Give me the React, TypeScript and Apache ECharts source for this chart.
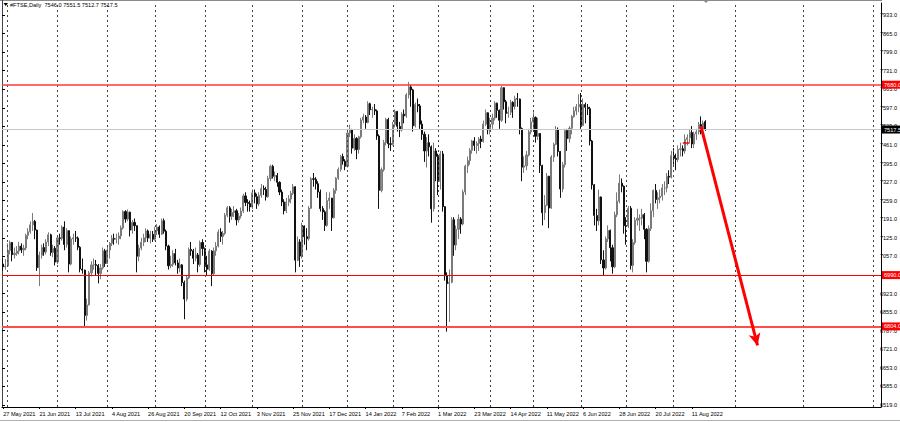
import React, { useEffect, useRef } from "react";
import * as echarts from "echarts";

// Daily candles, each entry: [open, high, low, close]
const may21 = [[7030, 7052, 7005, 7020], [7020, 7048, 7010, 7023]];
const jun21 = [
  [7023, 7105, 7020, 7080], [7080, 7115, 7065, 7108], [7108, 7110, 7040, 7064], [7064, 7090, 7050, 7069],
  [7069, 7095, 7060, 7077], [7077, 7110, 7065, 7095], [7095, 7105, 7070, 7081], [7081, 7100, 7060, 7088],
  [7088, 7140, 7080, 7134], [7134, 7160, 7120, 7147], [7147, 7185, 7140, 7172], [7172, 7215, 7150, 7185],
  [7185, 7190, 7120, 7153], [7153, 7155, 7005, 7017], [7017, 7075, 6950, 7062], [7062, 7100, 7050, 7090],
  [7090, 7105, 7060, 7074], [7074, 7120, 7065, 7110], [7110, 7145, 7095, 7136], [7136, 7140, 7060, 7072],
  [7072, 7100, 7055, 7087], [7087, 7095, 7025, 7037],
];
const jul21 = [
  [7037, 7130, 7030, 7125], [7125, 7140, 7100, 7123], [7123, 7170, 7115, 7164], [7164, 7185, 7080, 7101],
  [7101, 7160, 7090, 7151], [7151, 7152, 7000, 7030], [7030, 7130, 7025, 7121], [7121, 7140, 7100, 7125],
  [7125, 7150, 7110, 7124], [7124, 7130, 7080, 7091], [7091, 7095, 7000, 7012], [7012, 7050, 6995, 7008],
  [7008, 7010, 6805, 6844], [6844, 6905, 6825, 6882], [6882, 7005, 6880, 6998], [6998, 7040, 6985, 7027],
  [7027, 7050, 7010, 7028], [7028, 7045, 6990, 7025], [7025, 7030, 6960, 6996], [6996, 7030, 6975, 7016],
  [7016, 7090, 7010, 7078], [7078, 7085, 7020, 7032],
];
const aug21 = [
  [7032, 7095, 7030, 7081], [7081, 7110, 7050, 7105], [7105, 7135, 7095, 7123], [7123, 7140, 7100, 7120],
  [7120, 7140, 7105, 7122], [7122, 7145, 7100, 7132], [7132, 7170, 7120, 7161], [7161, 7225, 7155, 7220],
  [7220, 7225, 7180, 7193], [7193, 7228, 7185, 7218], [7218, 7220, 7130, 7153], [7153, 7190, 7140, 7181],
  [7181, 7195, 7150, 7169], [7169, 7170, 7000, 7058], [7058, 7100, 7040, 7088], [7088, 7125, 7080, 7109],
  [7109, 7140, 7095, 7125], [7125, 7160, 7110, 7150], [7150, 7155, 7110, 7124], [7124, 7150, 7105, 7138],
  [7138, 7150, 7110, 7120],
];
const sep21 = [
  [7120, 7165, 7115, 7150], [7150, 7175, 7135, 7164], [7164, 7170, 7125, 7138], [7138, 7195, 7135, 7187],
  [7187, 7195, 7140, 7149], [7149, 7155, 7080, 7095], [7095, 7100, 7010, 7024], [7024, 7060, 7015, 7029],
  [7029, 7080, 7020, 7068], [7068, 7085, 7025, 7034], [7034, 7045, 6995, 7016], [7016, 7050, 7000, 7027],
  [7027, 7030, 6950, 6963], [6963, 6970, 6830, 6903], [6903, 6990, 6895, 6980], [6980, 7090, 6975, 7083],
  [7083, 7110, 7060, 7078], [7078, 7085, 7030, 7051], [7051, 7090, 7040, 7063], [7063, 7070, 7000, 7028],
  [7028, 7115, 7020, 7108], [7108, 7120, 7060, 7086],
];
const oct21 = [
  [7086, 7090, 7000, 7027], [7027, 7060, 6990, 7011], [7011, 7085, 7005, 7077], [7077, 7080, 6950, 6995],
  [6995, 7090, 6990, 7078], [7078, 7110, 7060, 7095], [7095, 7155, 7090, 7146], [7146, 7160, 7110, 7130],
  [7130, 7150, 7100, 7141], [7141, 7215, 7135, 7207], [7207, 7240, 7200, 7234], [7234, 7240, 7180, 7203],
  [7203, 7230, 7190, 7217], [7217, 7240, 7200, 7223], [7223, 7230, 7170, 7190], [7190, 7215, 7180, 7204],
  [7204, 7235, 7195, 7222], [7222, 7285, 7215, 7277], [7277, 7290, 7240, 7253], [7253, 7265, 7220, 7249],
  [7249, 7260, 7220, 7237],
];
const nov21 = [
  [7237, 7300, 7230, 7288], [7288, 7300, 7250, 7274], [7274, 7285, 7230, 7248], [7248, 7290, 7240, 7279],
  [7279, 7320, 7270, 7304], [7304, 7315, 7280, 7300], [7300, 7310, 7260, 7274], [7274, 7350, 7270, 7340],
  [7340, 7390, 7330, 7384], [7384, 7390, 7340, 7348], [7348, 7365, 7330, 7351], [7351, 7360, 7310, 7326],
  [7326, 7330, 7280, 7291], [7291, 7300, 7240, 7255], [7255, 7265, 7210, 7223], [7223, 7270, 7215, 7255],
  [7255, 7280, 7240, 7266], [7266, 7295, 7250, 7286], [7286, 7320, 7280, 7310], [7310, 7312, 7000, 7044],
  [7044, 7130, 7040, 7110], [7110, 7120, 7020, 7059],
];
const dec21 = [
  [7059, 7180, 7050, 7168], [7168, 7170, 7100, 7129], [7129, 7160, 7080, 7122], [7122, 7240, 7115, 7232],
  [7232, 7345, 7230, 7339], [7339, 7360, 7310, 7337], [7337, 7345, 7300, 7321], [7321, 7330, 7270, 7291],
  [7291, 7300, 7220, 7231], [7231, 7240, 7190, 7219], [7219, 7225, 7150, 7170], [7170, 7290, 7165, 7260],
  [7260, 7290, 7230, 7269], [7269, 7270, 7150, 7198], [7198, 7305, 7195, 7297], [7297, 7345, 7285, 7341],
  [7341, 7380, 7335, 7373], [7373, 7425, 7365, 7420], [7420, 7430, 7390, 7403], [7403, 7410, 7370, 7384],
];
const jan22 = [
  [7384, 7520, 7380, 7505], [7505, 7535, 7490, 7516], [7516, 7520, 7430, 7450], [7450, 7500, 7440, 7485],
  [7485, 7490, 7410, 7445], [7445, 7495, 7430, 7491], [7491, 7560, 7485, 7552], [7552, 7575, 7540, 7563],
  [7563, 7570, 7520, 7543], [7543, 7620, 7540, 7611], [7611, 7615, 7570, 7589], [7589, 7600, 7560, 7590],
  [7590, 7610, 7570, 7585], [7585, 7590, 7480, 7494], [7494, 7500, 7230, 7297], [7297, 7380, 7290, 7372],
  [7372, 7480, 7365, 7470], [7470, 7560, 7460, 7554], [7554, 7560, 7450, 7466], [7466, 7490, 7440, 7464],
];
const feb22 = [
  [7464, 7545, 7460, 7535], [7535, 7590, 7525, 7583], [7583, 7585, 7510, 7529], [7529, 7545, 7490, 7516],
  [7516, 7580, 7510, 7573], [7573, 7590, 7540, 7567], [7567, 7650, 7560, 7643], [7643, 7690, 7630, 7672],
  [7672, 7680, 7600, 7661], [7661, 7665, 7510, 7531], [7531, 7615, 7525, 7608], [7608, 7630, 7580, 7603],
  [7603, 7610, 7520, 7537], [7537, 7550, 7480, 7500], [7500, 7510, 7400, 7440], [7440, 7490, 7380, 7470],
  [7470, 7500, 7420, 7455], [7455, 7460, 7180, 7230], [7230, 7470, 7220, 7440], [7440, 7450, 7330, 7420],
];
const mar22 = [
  [7420, 7430, 7280, 7330], [7330, 7440, 7300, 7429], [7429, 7440, 7220, 7238], [7238, 7240, 6970, 6987],
  [6987, 7000, 6785, 6959], [6959, 7010, 6820, 6964], [6964, 7200, 6960, 7191], [7191, 7200, 7060, 7099],
  [7099, 7170, 7080, 7156], [7156, 7210, 7120, 7193], [7193, 7200, 7140, 7175], [7175, 7300, 7170, 7291],
  [7291, 7390, 7280, 7385], [7385, 7420, 7360, 7405], [7405, 7450, 7390, 7442], [7442, 7480, 7430, 7476],
  [7476, 7490, 7440, 7460], [7460, 7475, 7430, 7467], [7467, 7490, 7440, 7483], [7483, 7495, 7450, 7474],
  [7474, 7550, 7470, 7537], [7537, 7590, 7530, 7578], [7578, 7580, 7500, 7516],
];
const apr22 = [
  [7516, 7560, 7500, 7537], [7537, 7575, 7520, 7559], [7559, 7620, 7550, 7613], [7613, 7615, 7560, 7587],
  [7587, 7590, 7520, 7551], [7551, 7675, 7545, 7669], [7669, 7670, 7590, 7618], [7618, 7625, 7540, 7576],
  [7576, 7600, 7560, 7580], [7580, 7625, 7570, 7616], [7616, 7620, 7560, 7601], [7601, 7640, 7590, 7629],
  [7629, 7650, 7600, 7628], [7628, 7630, 7500, 7521], [7521, 7525, 7330, 7381], [7381, 7420, 7360, 7386],
  [7386, 7440, 7370, 7425], [7425, 7520, 7420, 7509], [7509, 7560, 7500, 7545],
];
const may22 = [
  [7545, 7580, 7510, 7561], [7561, 7565, 7470, 7493], [7493, 7560, 7480, 7503], [7503, 7505, 7360, 7387],
  [7387, 7390, 7170, 7216], [7216, 7280, 7190, 7243], [7243, 7360, 7240, 7348], [7348, 7350, 7160, 7233],
  [7233, 7425, 7230, 7418], [7418, 7470, 7400, 7464], [7464, 7530, 7460, 7518], [7518, 7525, 7420, 7438],
  [7438, 7440, 7270, 7302], [7302, 7400, 7290, 7390], [7390, 7520, 7380, 7514], [7514, 7520, 7440, 7485],
  [7485, 7530, 7470, 7522], [7522, 7570, 7500, 7565], [7565, 7600, 7560, 7585], [7585, 7610, 7570, 7600],
  [7600, 7645, 7580, 7608],
];
const jun22 = [
  [7608, 7650, 7520, 7532], [7532, 7630, 7530, 7608], [7608, 7615, 7540, 7598], [7598, 7610, 7570, 7593],
  [7593, 7600, 7460, 7476], [7476, 7480, 7300, 7317], [7317, 7320, 7170, 7206], [7206, 7230, 7150, 7187],
  [7187, 7300, 7170, 7273], [7273, 7275, 7030, 7045], [7045, 7080, 6990, 7016], [7016, 7130, 7010, 7121],
  [7121, 7170, 7110, 7152], [7152, 7155, 7040, 7089], [7089, 7100, 6995, 7020], [7020, 7220, 7015, 7208],
  [7208, 7290, 7200, 7258], [7258, 7355, 7250, 7323], [7323, 7340, 7290, 7312], [7312, 7315, 7140, 7169],
];
const jul22 = [
  [7169, 7200, 7100, 7168], [7168, 7240, 7160, 7232], [7232, 7240, 7010, 7025], [7025, 7120, 7000, 7108],
  [7108, 7200, 7100, 7189], [7189, 7230, 7170, 7196], [7196, 7210, 7150, 7196], [7196, 7230, 7170, 7209],
  [7209, 7215, 7120, 7156], [7156, 7160, 7000, 7040], [7040, 7170, 7035, 7159], [7159, 7250, 7150, 7223],
  [7223, 7300, 7200, 7297], [7297, 7320, 7250, 7264], [7264, 7290, 7230, 7270], [7270, 7300, 7250, 7276],
  [7276, 7320, 7260, 7306], [7306, 7330, 7280, 7306], [7306, 7360, 7290, 7348], [7348, 7370, 7320, 7345],
  [7345, 7440, 7340, 7423],
];
const aug22 = [
  [7423, 7450, 7390, 7413], [7413, 7430, 7370, 7409], [7409, 7460, 7400, 7445], [7445, 7470, 7420, 7448],
  [7448, 7460, 7420, 7440], [7440, 7500, 7430, 7482], [7482, 7500, 7460, 7488], [7488, 7520, 7470, 7507],
  [7507, 7530, 7450, 7465], [7465, 7510, 7450, 7501], [7501, 7520, 7480, 7509], [7509, 7545, 7500, 7536],
  [7536, 7565, 7500, 7516], [7516, 7550, 7510, 7541], [7546.0, 7551.5, 7512.7, 7517.5],
];

const candlesOHLC = [
  ...may21, ...jun21, ...jul21, ...aug21, ...sep21, ...oct21, ...nov21, ...dec21,
  ...jan22, ...feb22, ...mar22, ...apr22, ...may22, ...jun22, ...jul22, ...aug22,
];

// Days without a bar (exchange holidays)
const holidays = [
  "2021-05-31", "2021-08-30", "2021-12-24", "2021-12-27", "2021-12-28", "2022-01-03",
  "2022-04-15", "2022-04-18", "2022-05-02", "2022-06-02", "2022-06-03",
];
const firstDate = "2021-05-27";
const totalSlots = 388; // bars + empty future space on the right
const labelEvery = 16;

// Right price scale tick labels
const yTickLabels = [
  6519, 6585, 6653, 6721, 6787, 6855, 6923, 6990, 7057, 7125, 7191,
  7259, 7327, 7395, 7461, 7529, 7597, 7665, 7731, 7799, 7865, 7933,
];
const priceMin = 6512;
const priceMax = 7976;

// Horizontal levels and annotations
const resistanceLevel = 7680;
const supportLevel = 6990;
const lowerSupportLevel = 6804;
const bidPrice = 7517.5;
const arrowFrom = [308, 7530];
const arrowTo = [333, 6735];
const shortSegment = [[300, 7470], [303, 7470]];

const symbolTitle = "#FTSE,Daily";
const MONTHS = ["Jan", "Feb", "Mar", "Apr", "May", "Jun", "Jul", "Aug", "Sep", "Oct", "Nov", "Dec"];

const DAY = 86400000;
const iso = (t: number) => new Date(t).toISOString().slice(0, 10);

const categories: string[] = [];
{
  const [y0, m0, d0] = firstDate.split("-").map(Number);
  let t = Date.UTC(y0, m0 - 1, d0);
  while (categories.length < candlesOHLC.length) {
    const wd = new Date(t).getUTCDay();
    const s = iso(t);
    if (wd !== 0 && wd !== 6 && !holidays.includes(s)) categories.push(s);
    t += DAY;
  }
  while (categories.length < totalSlots) {
    categories.push(iso(t));
    t += DAY;
  }
}

const fmtDate = (s: string) => {
  const [y, m, d] = s.split("-");
  return `${Number(d)} ${MONTHS[Number(m) - 1]} ${y}`;
};

const monthStarts: number[] = [];
for (let i = 1; i < categories.length; i++) {
  if (categories[i].slice(0, 7) !== categories[i - 1].slice(0, 7)) monthStarts.push(i);
}

const showLabel = (i: number) => i % labelEvery === 0 && i < candlesOHLC.length;

const FONT = "Liberation Sans, Arial, sans-serif";
const FS = 5.6;

function buildOption() {
  const candleData = candlesOHLC.map(([o, h, l, c]) => [o, c, l, h]);
  const last = candlesOHLC[candlesOHLC.length - 1];
  const title = `${symbolTitle}  ${last.map((v) => v.toFixed(1)).join(" ")}`;
  const coveredTicks = [supportLevel];

  const levelLabel = (bg: string, text: string) => ({
    show: true,
    position: "end",
    formatter: text,
    backgroundColor: bg,
    color: "#fff",
    fontSize: FS,
    fontFamily: FONT,
    padding: [1, 4, 1, 2],
    distance: 1,
  });

  return {
    animation: false,
    backgroundColor: "#ffffff",
    grid: [
      { left: 2, right: 19, top: 3, bottom: 15 },
      { left: 2, right: 19, top: 15, bottom: 17 },
    ],
    xAxis: [
      {
        type: "category",
        gridIndex: 0,
        data: categories,
        boundaryGap: true,
        axisLine: { show: true, lineStyle: { color: "#000", width: 1 } },
        axisTick: { show: true, alignWithLabel: true, interval: showLabel, length: 2, lineStyle: { color: "#000" } },
        axisLabel: {
          interval: showLabel,
          formatter: fmtDate,
          align: "left",
          fontSize: FS,
          fontFamily: FONT,
          color: "#000",
          margin: 4,
        },
        splitLine: { show: false },
      },
      { type: "value", gridIndex: 1, show: false, min: 0, max: 1 },
    ],
    yAxis: [
      {
        type: "value",
        gridIndex: 0,
        position: "right",
        min: priceMin,
        max: priceMax,
        axisLine: { show: true, lineStyle: { color: "#000", width: 1 } },
        axisTick: { show: false },
        axisLabel: { show: false },
        splitLine: { show: false },
      },
      {
        type: "value",
        gridIndex: 1,
        position: "right",
        min: 0,
        max: yTickLabels.length - 1,
        interval: 1,
        axisLine: { show: false },
        axisTick: { show: true, length: 3, lineStyle: { color: "#000" } },
        axisLabel: {
          formatter: (v: number) => {
            const lab = yTickLabels[Math.round(v)];
            if (lab === undefined || coveredTicks.includes(lab)) return "";
            return lab.toFixed(1);
          },
          fontSize: FS,
          fontFamily: FONT,
          color: "#000",
          margin: 2,
        },
        splitLine: { show: false },
      },
    ],
    series: [
      {
        type: "line",
        name: "grid",
        xAxisIndex: 0,
        yAxisIndex: 0,
        data: [],
        z: 1,
        silent: true,
        markLine: {
          silent: true,
          symbol: ["none", "none"],
          label: { show: false },
          lineStyle: { color: "#444", type: [2, 3], width: 1 },
          data: monthStarts.map((i) => ({ xAxis: i })),
        },
      },
      {
        type: "candlestick",
        name: "#FTSE",
        xAxisIndex: 0,
        yAxisIndex: 0,
        z: 2,
        barWidth: 1.6,
        data: candleData,
        itemStyle: {
          color: "#8c8c8c",
          color0: "#111",
          borderColor: "#7a7a7a",
          borderColor0: "#111",
          borderWidth: 1,
        },
      },
      {
        type: "line",
        name: "levels",
        xAxisIndex: 0,
        yAxisIndex: 0,
        data: [],
        z: 3,
        silent: true,
        markLine: {
          silent: true,
          symbol: ["none", "none"],
          data: [
            {
              yAxis: bidPrice,
              lineStyle: { color: "#c8c8c8", width: 1, type: "solid" },
              label: levelLabel("#000", bidPrice.toFixed(1)),
            },
            {
              yAxis: resistanceLevel,
              lineStyle: { color: "#ff3a3a", width: 1.5, type: "solid" },
              label: levelLabel("#ff0000", resistanceLevel.toFixed(1)),
            },
            {
              yAxis: supportLevel,
              lineStyle: { color: "#ff0000", width: 1.2, type: "solid" },
              label: levelLabel("#ff0000", supportLevel.toFixed(1)),
            },
            {
              yAxis: lowerSupportLevel,
              lineStyle: { color: "#ff4d4d", width: 2, type: "solid" },
              label: levelLabel("#ff0000", lowerSupportLevel.toFixed(1)),
            },
            [
              { coord: shortSegment[0], lineStyle: { color: "#ff0000", width: 1.5, type: "solid" }, label: { show: false } },
              { coord: shortSegment[1] },
            ],
          ],
        },
      },
      {
        type: "line",
        name: "arrow",
        xAxisIndex: 0,
        yAxisIndex: 0,
        data: [],
        z: 4,
        silent: true,
        markLine: {
          silent: true,
          symbol: ["none", "arrow"],
          symbolSize: [9, 12],
          label: { show: false },
          lineStyle: { color: "#ff0000", width: 3, type: "solid" },
          data: [[{ coord: arrowFrom }, { coord: arrowTo }]],
        },
      },
    ],
    graphic: [
      { type: "line", shape: { x1: 0, y1: 0.5, x2: 882, y2: 0.5 }, style: { stroke: "#8a8a8a", lineWidth: 1 }, silent: true },
      { type: "line", shape: { x1: 2.5, y1: 0, x2: 2.5, y2: 407 }, style: { stroke: "#444", lineWidth: 1 }, silent: true },
      { type: "line", shape: { x1: 0, y1: 420.5, x2: 900, y2: 420.5 }, style: { stroke: "#b0b0b0", lineWidth: 1 }, silent: true },
      { type: "polygon", shape: { points: [[703, 0], [709, 0], [706, 3]] }, style: { fill: "#888" }, silent: true },
      { type: "polygon", shape: { points: [[3.5, 3], [8, 3], [5.75, 6]] }, style: { fill: "#000" }, silent: true },
      {
        type: "text",
        left: 10,
        top: 2,
        silent: true,
        style: { text: title, fontSize: FS, fontFamily: FONT, fill: "#000" },
      },
    ],
  };
}

export default function App() {
  const ref = useRef<HTMLDivElement>(null);
  useEffect(() => {
    if (!ref.current) return;
    const chart = echarts.init(ref.current, null, { renderer: "svg" });
    chart.setOption(buildOption() as any);
    return () => chart.dispose();
  }, []);
  return (
    <div
      ref={ref}
      style={{ position: "fixed", left: 0, top: 0, width: 900, height: 422, background: "#fff" }}
    />
  );
}
